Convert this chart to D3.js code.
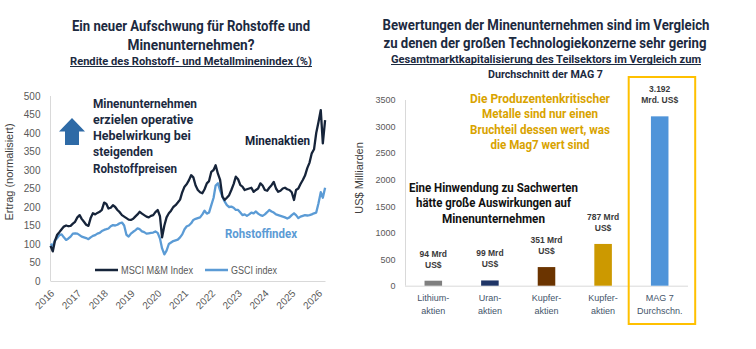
<!DOCTYPE html>
<html><head><meta charset="utf-8">
<script src="https://cdn.jsdelivr.net/npm/d3@7"></script>
<style>body{margin:0;background:#fff}svg{display:block}</style>
</head><body>
<svg id="c" width="756" height="349"></svg>
<script>
// ---------- DATA ----------
const yearTicks = ["2016","2017","2018","2019","2020","2021","2022","2023","2024","2025","2026"];
const seriesStart = [2016, 0]; // Jan 2016, monthly
const msciMM = [
  95, 80, 108, 125, 132, 140, 147, 150, 148, 149, 155, 160,
  172, 178, 168, 160, 152, 149, 170, 183, 180, 184, 187, 192,
  212, 208, 196, 198, 205, 200, 192, 186, 178, 174, 170, 166,
  165, 168, 174, 180, 187, 182, 178, 174, 172, 176, 178, 186,
  192, 175, 118, 150, 172, 183, 190, 200, 205, 212, 220, 240,
  255, 262, 272, 286, 280, 258, 246, 240, 237, 248, 264, 270,
  295, 300, 313, 290, 273, 228, 219, 225, 232, 246, 262, 282,
  275, 259, 255, 246, 248, 250, 252, 241, 246, 250, 264, 258,
  246, 244, 252, 259, 268, 250, 241, 244, 250, 252, 248, 246,
  240, 219, 246, 250, 262, 273, 285, 305, 320, 345, 356, 400,
  430, 462, 372, 435
];
const gsci = [
  100, 95, 110, 116, 124, 126, 118, 111, 115, 120, 128, 129,
  128, 124, 120, 118, 116, 113, 118, 122, 124, 128, 130, 135,
  138, 140, 142, 148, 151, 150, 152, 156, 158, 150, 125, 120,
  128, 133, 137, 142, 140, 134, 132, 128, 129, 130, 131, 134,
  130, 115, 88, 72, 82, 100, 104, 108, 110, 112, 118, 126,
  140, 148, 150, 156, 165, 168, 170, 172, 180, 190, 182, 185,
  205, 225, 258, 264, 245, 228, 215, 205, 200, 201, 198, 192,
  192, 185, 178, 180, 176, 180, 185, 183, 188, 182, 178, 176,
  180, 186, 192, 188, 185, 180, 178, 176, 174, 172, 169, 172,
  178, 183, 178, 170, 174, 176, 178, 177, 178, 180, 183, 185,
  210, 240, 225, 252
];
const leftYTicks = [0,50,100,150,200,250,300,350,400,450,500];
const seriesNames = ["MSCI M&M Index", "GSCI index"];

const categories = ["Lithium", "Uran", "Kupfer1", "Kupfer2", "MAG7"];
const categoryLabels = [["Lithium-","aktien"],["Uran-","aktien"],["Kupfer-","aktien"],["Kupfer-","aktien"],["MAG 7","Durchschn."]];
const marketCap = [94, 99, 351, 787, 3192];
const capLabels = [["94 Mrd","US$"],["99 Mrd","US$"],["351 Mrd","US$"],["787 Mrd","US$"],["3.192","Mrd. US$"]];
const rightYTicks = [0,500,1000,1500,2000,2500,3000,3500];

// ---------- STYLE ----------
const F = "'Liberation Sans Narrow','Arial Narrow','Roboto',sans-serif";
const FT = "'Liberation Sans','Arial',sans-serif";
const dark = "#1c2a3f";
const navyLine = "#16243a";
const blueLine = "#5b9bd5";
const tickCol = "#595959";
const barColors = ["#7f7f7f","#1f3566","#6b3400","#cc9900","#4f94d9"];
const gold = "#d9a300";

const svg = d3.select("#c");

function fit(sel, w) {
  sel.each(function(){
    const L = this.getComputedTextLength();
    if (Math.abs(L - w) > 1.5) d3.select(this).attr("textLength", w).attr("lengthAdjust","spacingAndGlyphs");
  });
  return sel;
}
function txt(x, y, s, o) {
  const t = svg.append("text").attr("x", x).attr("y", y).text(s)
    .attr("font-family", o.family || F).attr("font-size", o.size)
    .attr("font-weight", o.weight || "normal").attr("fill", o.fill || dark)
    .attr("text-anchor", o.anchor || "middle");
  if (o.w) fit(t, o.w);
  return t;
}

// ---------- LEFT CHART ----------
const dates = msciMM.map((d, i) => new Date(seriesStart[0], seriesStart[1] + i, 1));
const x = d3.scaleTime().domain([new Date(2016,0,1), new Date(2026,0,1)]).range([50.5, 318.5]);
const y = d3.scaleLinear().domain([0, 500]).range([281, 96]);

svg.append("line").attr("x1", 50.5).attr("x2", 50.5).attr("y1", y(500)).attr("y2", y(0)).attr("stroke", "#d9d9d9");
svg.append("line").attr("x1", 50.5).attr("x2", 325.5).attr("y1", y(0)+0.5).attr("y2", y(0)+0.5).attr("stroke", "#d9d9d9");

const yAxisL = d3.axisLeft(y).tickValues(leftYTicks).tickFormat(d3.format("d")).tickSize(0).tickPadding(10);
const gyl = svg.append("g").attr("transform", "translate(50.5,0)").call(yAxisL);
gyl.select(".domain").remove();
gyl.selectAll("text").attr("font-family", FT).attr("font-size", 10).attr("fill", tickCol);

const xAxis = d3.axisBottom(x).tickValues(yearTicks.map(s => new Date(+s, 0, 1))).tickFormat(d3.timeFormat("%Y")).tickSize(0);
const gx = svg.append("g").attr("transform", `translate(0,${y(0)})`).call(xAxis);
gx.select(".domain").remove();
gx.selectAll("text").attr("font-family", FT).attr("font-size", 10).attr("fill", tickCol)
  .attr("text-anchor", "end").attr("dy", 0).attr("y", 0)
  .attr("transform", "translate(4,13) rotate(-45)");

const line = d3.line().x((d, i) => x(dates[i])).y(d => y(d));
svg.append("path").datum(gsci).attr("d", line).attr("fill", "none").attr("stroke", blueLine).attr("stroke-width", 2.3).attr("stroke-linejoin", "round");
svg.append("path").datum(msciMM).attr("d", line).attr("fill", "none").attr("stroke", navyLine).attr("stroke-width", 2.3).attr("stroke-linejoin", "round");

svg.append("text").attr("transform", "translate(13,172) rotate(-90)").attr("text-anchor", "middle")
  .attr("font-family", FT).attr("font-size", 11).attr("fill", "#404040").text("Ertrag (normalisiert)");

[[navyLine, 95, 121, 72], [blueLine, 205, 231, 46]].forEach((l, i) => {
  svg.append("line").attr("x1", l[1]).attr("x2", l[1] + 23).attr("y1", 270).attr("y2", 270).attr("stroke", l[0]).attr("stroke-width", 2.5);
  txt(l[2], 273.5, seriesNames[i], {size: 10, family: FT, fill: tickCol, anchor: "start", w: l[3]});
});

txt(277.5, 144.5, "Minenaktien", {size: 12.5, weight: "bold", fill: navyLine, w: 65});
txt(261, 237.5, "Rohstoffindex", {size: 12.5, weight: "bold", fill: blueLine, w: 72});

[["Minenunternehmen",104],["erzielen operative",99],["Hebelwirkung bei",97],["steigenden",60],["Rohstoffpreisen",84]]
  .forEach((l, i) => txt(93, 107.5 + i * 16.3, l[0], {size: 12.5, weight: "bold", fill: dark, anchor: "start", w: l[1]}));
svg.append("path").attr("d", "M72,118 L85,131.5 L79,131.5 L79,145 L65,145 L65,131.5 L59,131.5 Z").attr("fill", "#2e6aa6");

txt(191, 31, "Ein neuer Aufschwung für Rohstoffe und", {size: 15, weight: "bold", w: 238});
txt(191, 49.5, "Minenunternehmen?", {size: 15, weight: "bold", w: 127});
txt(191, 64.5, "Rendite des Rohstoff- und Metallminenindex (%)", {size: 11, weight: "bold", w: 242});
svg.append("line").attr("x1", 70).attr("x2", 312).attr("y1", 66.5).attr("y2", 66.5).attr("stroke", dark).attr("stroke-width", 1);

// ---------- RIGHT CHART ----------
const xb = d3.scaleBand().domain(categories).range([405, 688]).paddingInner(0.69).paddingOuter(0.345);
const yb = d3.scaleLinear().domain([0, 3500]).range([285.7, 100]);

svg.append("line").attr("x1", 405.5).attr("x2", 405.5).attr("y1", yb(3500)).attr("y2", yb(0)).attr("stroke", "#d9d9d9");
svg.append("line").attr("x1", 405).attr("x2", 688).attr("y1", yb(0)+0.5).attr("y2", yb(0)+0.5).attr("stroke", "#d9d9d9");

const yAxisR = d3.axisLeft(yb).tickValues(rightYTicks).tickFormat(d3.format("d")).tickSize(0).tickPadding(10);
const gyr = svg.append("g").attr("transform", "translate(405.5,0)").call(yAxisR);
gyr.select(".domain").remove();
gyr.selectAll("text").attr("font-family", FT).attr("font-size", 9).attr("fill", tickCol);

svg.append("text").attr("transform", "translate(363,178) rotate(-90)").attr("text-anchor", "middle")
  .attr("font-family", FT).attr("font-size", 11).attr("fill", "#404040").text("US$ Milliarden");

svg.selectAll("rect.bar").data(marketCap).join("rect").attr("class", "bar")
  .attr("x", (d, i) => xb(categories[i])).attr("width", xb.bandwidth())
  .attr("y", d => yb(d)).attr("height", d => yb(0) - yb(d))
  .attr("fill", (d, i) => barColors[i]);

marketCap.forEach((v, i) => {
  const cx = xb(categories[i]) + xb.bandwidth() / 2;
  txt(cx, yb(v) - 24, capLabels[i][0], {size: 8.5, weight: "bold", family: FT, fill: "#3a3a3a"});
  txt(cx, yb(v) - 13, capLabels[i][1], {size: 8.5, weight: "bold", family: FT, fill: "#3a3a3a"});
  txt(cx, 301, categoryLabels[i][0], {size: 9, family: FT, fill: "#44546a"});
  txt(cx, 314, categoryLabels[i][1], {size: 9, family: FT, fill: "#44546a"});
});

const mcx = xb("MAG7") + xb.bandwidth() / 2;
svg.append("rect").attr("x", mcx - 31).attr("y", 77).attr("width", 66.5).attr("height", 247)
  .attr("fill", "none").attr("stroke", "#ffc000").attr("stroke-width", 2);

txt(546, 30, "Bewertungen der Minenunternehmen sind im Vergleich", {size: 15, weight: "bold", w: 327});
txt(545, 48, "zu denen der großen Technologiekonzerne sehr gering", {size: 15, weight: "bold", w: 323});
txt(546, 62.5, "Gesamtmarktkapitalisierung des Teilsektors im Vergleich zum", {size: 11, weight: "bold", w: 310});
svg.append("line").attr("x1", 391).attr("x2", 701).attr("y1", 64.5).attr("y2", 64.5).attr("stroke", dark).attr("stroke-width", 1);
txt(545.5, 78, "Durchschnitt der MAG 7", {size: 11, weight: "bold", w: 115});

[["Die Produzentenkritischer",140],["Metalle sind nur einen",116],["Bruchteil dessen wert, was",140],["die Mag7 wert sind",99]]
  .forEach((l, i) => txt(540, 102.5 + i * 15.6, l[0], {size: 12.5, weight: "bold", fill: gold, w: l[1]}));

[["Eine Hinwendung zu Sachwerten",169],["hätte große Auswirkungen auf",155],["Minenunternehmen",103]]
  .forEach((l, i) => txt(493.5, 191.5 + i * 15.5, l[0], {size: 12.5, weight: "bold", fill: "#111", w: l[1]}));
</script>
</body></html>
